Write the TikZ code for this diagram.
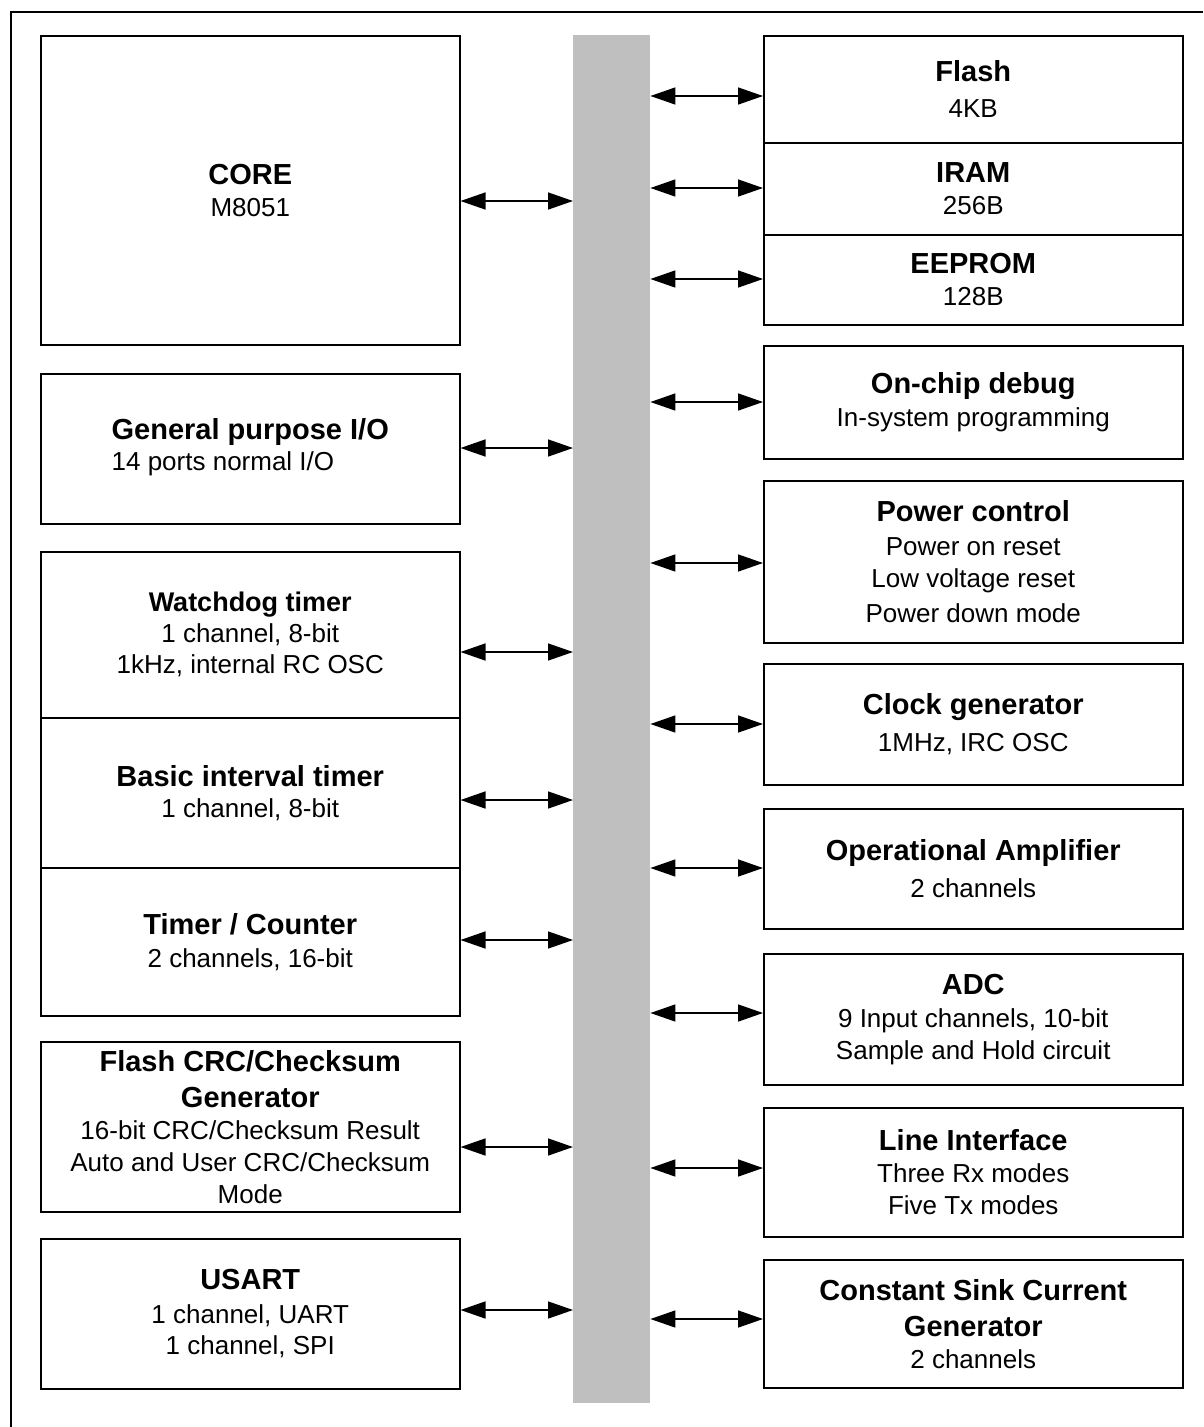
\documentclass[tikz,border=0pt]{standalone}
\usepackage{fontspec}
\setmainfont{Liberation Sans}
\usetikzlibrary{arrows.meta}
\definecolor{busgray}{HTML}{BFBFBF}
\newcommand\ttl[1]{{\fontsize{29}{34}\selectfont\bfseries #1}}
\newcommand\ttls[1]{{\fontsize{27}{32}\selectfont\bfseries #1}}
\begin{document}
\begin{tikzpicture}[x=1pt,y=-1pt,
  blk/.style={draw, line width=1.5pt, rectangle, anchor=north west, inner sep=0pt,
    align=center, font=\fontsize{26}{32}\selectfont},
  biarrow/.style={line width=1.5pt, {Triangle[length=25pt,width=17pt]}-{Triangle[length=25pt,width=17pt]}, shorten <=0pt, shorten >=0pt}
]
\useasboundingbox (0,0) rectangle (1203,1427);
% outer frame
\draw[line width=2pt] (11,1427) -- (11,12) -- (1203,12);
% bus
\node[fill=busgray, draw=none, anchor=north west, inner sep=0pt,
  minimum width=77pt, minimum height=1368pt] (bus) at (573,35) {};

% left column
\node[blk, minimum width=419pt, minimum height=309pt] (core) at (40,35)
  {\ttl{CORE}\\M8051};
\node[blk, minimum width=419pt, minimum height=150pt] (gpio) at (40,373)
  {\begin{tabular}{@{}l@{}}\ttl{General purpose I/O}\\[-1pt]14 ports normal I/O\end{tabular}};
\node[blk, minimum width=419pt, minimum height=166pt] (wdt) at (40,551)
  {\ttls{Watchdog timer}\\[-1pt]1 channel, 8-bit\\[-1pt]1kHz, internal RC OSC};
\node[blk, minimum width=419pt, minimum height=150pt] (bit) at (40,717)
  {\ttl{Basic interval timer}\\[-1pt]1 channel, 8-bit};
\node[blk, minimum width=419pt, minimum height=148pt] (tc) at (40,867)
  {\ttl{Timer / Counter}\\[1pt]2 channels, 16-bit};
\node[blk, minimum width=419pt, minimum height=170pt] (crc) at (40,1041)
  {\ttl{Flash CRC/Checksum}\\[4pt]\ttl{Generator}\\16-bit CRC/Checksum Result\\Auto and User CRC/Checksum\\Mode};
\node[blk, minimum width=419pt, minimum height=150pt] (usart) at (40,1238)
  {\ttl{USART}\\[2pt]1 channel, UART\\[-1pt]1 channel, SPI};

% right column
\node[blk, minimum width=419pt, minimum height=107pt] (flash) at (763,35)
  {\ttl{Flash}\\[4pt]4KB};
\node[blk, minimum width=419pt, minimum height=92pt] (iram) at (763,142)
  {\ttl{IRAM}\\256B};
\node[blk, minimum width=419pt, minimum height=90pt] (eeprom) at (763,234)
  {\ttl{EEPROM}\\128B};
\node[blk, minimum width=419pt, minimum height=113pt] (ocd) at (763,345)
  {\ttl{On-chip debug}\\[1pt]In-system programming};
\node[blk, minimum width=419pt, minimum height=162pt] (pwr) at (763,480)
  {\ttl{Power control}\\[2pt]Power on reset\\Low voltage reset\\[3pt]Power down mode};
\node[blk, minimum width=419pt, minimum height=121pt] (clk) at (763,663)
  {\ttl{Clock generator}\\[5pt]1MHz, IRC OSC};
\node[blk, minimum width=419pt, minimum height=120pt] (opamp) at (763,808)
  {\ttl{Operational Amplifier}\\[5pt]2 channels};
\node[blk, minimum width=419pt, minimum height=131pt] (adc) at (763,953)
  {\ttl{ADC}\\[1pt]9 Input channels, 10-bit\\Sample and Hold circuit};
\node[blk, minimum width=419pt, minimum height=129pt] (li) at (763,1107)
  {\ttl{Line Interface}\\Three Rx modes\\Five Tx modes};
\node[blk, minimum width=419pt, minimum height=128pt] (cscg) at (763,1259)
  {\ttl{Constant Sink Current}\\[4pt]\ttl{Generator}\\2 channels};

% connectors left
\draw[biarrow] (core.east |- 0,201) -- (bus.west |- 0,201);
\draw[biarrow] (gpio.east |- 0,448) -- (bus.west |- 0,448);
\draw[biarrow] (wdt.east |- 0,652) -- (bus.west |- 0,652);
\draw[biarrow] (bit.east |- 0,800) -- (bus.west |- 0,800);
\draw[biarrow] (tc.east |- 0,940) -- (bus.west |- 0,940);
\draw[biarrow] (crc.east |- 0,1147) -- (bus.west |- 0,1147);
\draw[biarrow] (usart.east |- 0,1310) -- (bus.west |- 0,1310);
% connectors right
\draw[biarrow] (bus.east |- 0,96) -- (flash.west |- 0,96);
\draw[biarrow] (bus.east |- 0,188) -- (iram.west |- 0,188);
\draw[biarrow] (bus.east |- 0,279) -- (eeprom.west |- 0,279);
\draw[biarrow] (bus.east |- 0,402) -- (ocd.west |- 0,402);
\draw[biarrow] (bus.east |- 0,563) -- (pwr.west |- 0,563);
\draw[biarrow] (bus.east |- 0,724) -- (clk.west |- 0,724);
\draw[biarrow] (bus.east |- 0,868) -- (opamp.west |- 0,868);
\draw[biarrow] (bus.east |- 0,1013) -- (adc.west |- 0,1013);
\draw[biarrow] (bus.east |- 0,1168) -- (li.west |- 0,1168);
\draw[biarrow] (bus.east |- 0,1319) -- (cscg.west |- 0,1319);
\end{tikzpicture}
\end{document}
